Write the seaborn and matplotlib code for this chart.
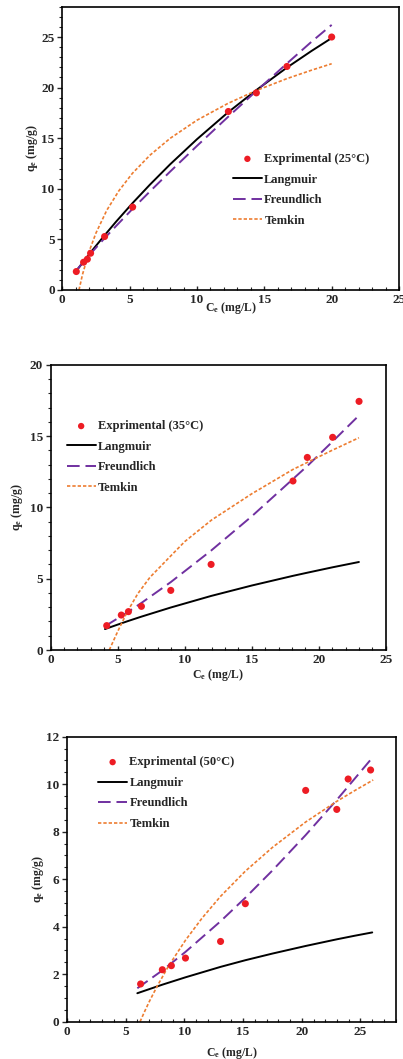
import matplotlib
matplotlib.use("Agg")
import matplotlib.pyplot as plt
from matplotlib.ticker import MultipleLocator
import seaborn as sns

# ---- 25 °C -------------------------------------------------------------
exp25_x = [1.04, 1.58, 1.86, 2.10, 3.14, 5.22, 12.33, 14.41, 16.68, 20.0]
exp25_y = [1.82, 2.74, 3.04, 3.63, 5.28, 8.19, 17.64, 19.48, 22.09, 25.0]
lang25_x = [1.04, 1.6, 2.1, 3.1, 4.0, 5.2, 6.5, 8.0, 10.0, 12.3, 14.4, 16.7, 18.5, 20.0]
lang25_y = [1.88, 2.85, 3.71, 5.34, 6.76, 8.56, 10.40, 12.41, 14.90, 17.55, 19.75, 22.00, 23.62, 24.90]
freu25_x = [1.1, 1.6, 2.1, 3.1, 4.0, 5.2, 6.5, 8.0, 10.0, 12.3, 14.4, 16.7, 18.5, 20.0]
freu25_y = [2.02, 2.82, 3.58, 5.06, 6.33, 7.99, 9.73, 11.69, 14.24, 17.10, 19.66, 22.41, 24.53, 26.20]
temk25_x = [1.24, 1.5, 2.0, 2.5, 3.3, 4.2, 5.2, 6.5, 8.0, 10.0, 12.3, 14.4, 16.7, 18.5, 20.0]
temk25_y = [0.0, 1.53, 3.84, 5.63, 7.87, 9.80, 11.52, 13.31, 14.98, 16.78, 18.44, 19.71, 20.90, 21.72, 22.36]

# ---- 35 °C -------------------------------------------------------------
exp35_x = [4.18, 5.27, 5.80, 6.77, 8.96, 11.97, 18.08, 19.15, 21.04, 23.01]
exp35_y = [1.71, 2.45, 2.69, 3.06, 4.18, 6.00, 11.85, 13.50, 14.91, 17.43]
lang35_x = [4.05, 5.27, 5.8, 6.77, 8.96, 11.97, 15.0, 18.08, 19.15, 21.04, 23.0]
lang35_y = [1.47, 1.87, 2.04, 2.34, 2.98, 3.79, 4.52, 5.20, 5.42, 5.80, 6.17]
freu35_x = [4.1, 5.27, 5.8, 6.77, 8.96, 11.97, 15.0, 18.08, 19.15, 21.04, 23.0]
freu35_y = [1.70, 2.37, 2.69, 3.30, 4.76, 6.97, 9.37, 11.99, 12.90, 14.62, 16.44]
temk35_x = [4.37, 5.0, 5.72, 6.5, 7.41, 8.9, 10.0, 12.0, 15.0, 18.08, 21.0, 23.0]
temk35_y = [0.0, 1.30, 2.69, 3.95, 5.10, 6.54, 7.60, 9.11, 10.95, 12.66, 14.00, 14.88]

# ---- 50 °C -------------------------------------------------------------
exp50_x = [6.27, 8.12, 8.89, 10.09, 13.08, 15.19, 20.33, 22.98, 23.95, 25.86]
exp50_y = [1.59, 2.19, 2.36, 2.68, 3.38, 4.97, 9.74, 8.94, 10.22, 10.60]
lang50_x = [5.99, 8.12, 10.09, 13.08, 15.19, 17.5, 20.33, 22.98, 24.5, 26.0]
lang50_y = [1.20, 1.56, 1.87, 2.31, 2.59, 2.87, 3.19, 3.47, 3.62, 3.76]
freu50_x = [5.99, 8.12, 10.09, 13.08, 15.19, 17.5, 20.33, 22.98, 24.5, 26.08]
freu50_y = [1.41, 2.16, 2.94, 4.23, 5.22, 6.37, 7.86, 9.34, 10.23, 11.16]
temk50_x = [6.22, 6.6, 7.0, 7.64, 8.63, 10.09, 11.5, 13.08, 15.19, 17.5, 20.33, 22.98, 24.5, 26.08]
temk50_y = [0.0, 0.42, 0.84, 1.46, 2.33, 3.43, 4.36, 5.28, 6.34, 7.34, 8.41, 9.28, 9.73, 10.18]

RED = "#ED1C24"
PURPLE = "#7030A0"
ORANGE = "#ED7D31"

sns.set_style("white")
plt.rcParams["font.family"] = ["Liberation Serif", "DejaVu Serif"]
plt.rcParams["font.weight"] = "bold"
plt.rcParams["axes.labelweight"] = "bold"
plt.rcParams["mathtext.fontset"] = "custom"
plt.rcParams["mathtext.rm"] = "Liberation Serif:bold"
plt.rcParams["mathtext.bf"] = "Liberation Serif:bold"
plt.rcParams["mathtext.it"] = "Liberation Serif:bold"

fig = plt.figure(figsize=(4.03, 10.59), dpi=100)

panels = [
    dict(rect=[0.1546, 0.7262, 0.8355, 0.2675], temp="25",
         exp=(exp25_x, exp25_y), lang=(lang25_x, lang25_y),
         freu=(freu25_x, freu25_y), temk=(temk25_x, temk25_y),
         ylim=28, ymaj=5, ymin=1, xmax=25,
         leg=(0.507, 0.483), ylab=-0.066, xlab=-0.035),
    dict(rect=[0.1258, 0.3862, 0.8313, 0.2694], temp="35",
         exp=(exp35_x, exp35_y), lang=(lang35_x, lang35_y),
         freu=(freu35_x, freu35_y), temk=(temk35_x, temk35_y),
         ylim=20, ymaj=5, ymin=1, xmax=25,
         leg=(0.048, 0.805), ylab=-0.077, xlab=-0.06),
    dict(rect=[0.1663, 0.0352, 0.8156, 0.2691], temp="50",
         exp=(exp50_x, exp50_y), lang=(lang50_x, lang50_y),
         freu=(freu50_x, freu50_y), temk=(temk50_x, temk50_y),
         ylim=12, ymaj=2, ymin=0.5, xmax=28,
         leg=(0.095, 0.931), ylab=-0.064, xlab=-0.082),
]

for p in panels:
    ax = fig.add_axes(p["rect"])
    ex, ey = p["exp"]
    sns.scatterplot(x=ex, y=ey, ax=ax, color=RED, s=26, edgecolor="none",
                    label="Exprimental (%s\u00b0C)" % p["temp"], zorder=5)
    sns.lineplot(x=p["lang"][0], y=p["lang"][1], ax=ax, sort=False,
                 estimator=None, color="black", lw=1.4, label="Langmuir")
    sns.lineplot(x=p["freu"][0], y=p["freu"][1], ax=ax, sort=False,
                 estimator=None, color=PURPLE, lw=1.4,
                 linestyle=(0, (6.5, 3.0)), label="Freundlich")
    sns.lineplot(x=p["temk"][0], y=p["temk"][1], ax=ax, sort=False,
                 estimator=None, color=ORANGE, lw=1.2,
                 linestyle=(0, (2.0, 1.2)), label="Temkin")

    ax.set_xlim(0, p["xmax"])
    ax.set_ylim(0, p["ylim"])
    ax.xaxis.set_major_locator(MultipleLocator(5))
    ax.xaxis.set_minor_locator(MultipleLocator(1))
    ax.yaxis.set_major_locator(MultipleLocator(p["ymaj"]))
    ax.yaxis.set_minor_locator(MultipleLocator(p["ymin"]))
    ax.tick_params(axis="y", which="major", direction="out", length=3.5,
                   width=1, labelsize=9.5, pad=2, left=True)
    ax.tick_params(axis="y", which="minor", direction="out", length=2,
                   width=0.8, left=True)
    ax.tick_params(axis="x", which="major", direction="in", length=3,
                   width=1, labelsize=9.5, pad=3, bottom=True)
    ax.tick_params(axis="x", which="minor", direction="in", length=2,
                   width=0.8, bottom=True)
    for s in ax.spines.values():
        s.set_linewidth(1.2)
        s.set_color("black")

    ax.set_xlabel(r"C$_{\mathbf{e}}$ (mg/L)", fontsize=8.5, fontweight="bold")
    ax.set_ylabel(r"q$_{\mathbf{e}}$ (mg/g)", fontsize=8.5, fontweight="bold")
    ax.yaxis.set_label_coords(p["ylab"], 0.5)
    ax.xaxis.set_label_coords(0.5, p["xlab"])

    ax.legend(loc="upper left", bbox_to_anchor=p["leg"], frameon=False,
              handlelength=2.3, handletextpad=0.2, markerscale=0.9,
              labelspacing=0.68, borderpad=0, borderaxespad=0,
              prop={"weight": "bold", "size": 9})

fig.savefig("out.png", dpi=100)
